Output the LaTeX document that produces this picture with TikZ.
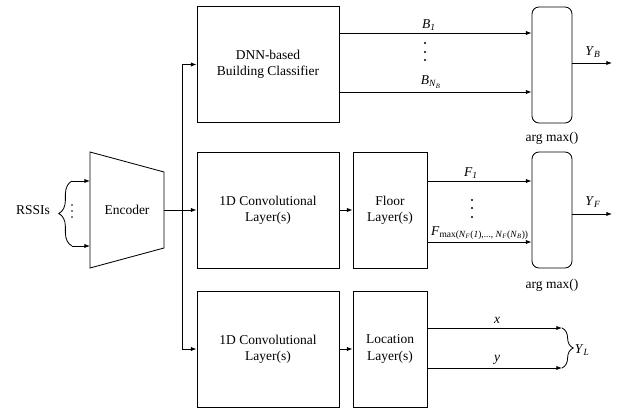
\documentclass[tikz,border=0pt]{standalone}
\usepackage{fontspec}
\setmainfont{Liberation Serif}
\usetikzlibrary{arrows.meta,decorations.pathreplacing}

\newcommand{\iv}[1]{\textit{#1}}
\newcommand{\sub}[1]{\textsubscript{#1}}

\begin{document}
\begin{tikzpicture}[x=0.025cm, y=-0.025cm, line width=0.6pt,
  font=\fontsize{9.6}{11.5}\selectfont,
  >={Latex[length=4pt,width=3pt]},
  block/.style={draw, align=center, inner sep=0pt, minimum width=3.55cm, minimum height=2.9cm},
  thinblock/.style={block, minimum width=1.85cm},
  argbox/.style={draw, rounded corners=5pt, minimum width=1cm, minimum height=2.9cm, inner sep=0pt},
  wbrace/.style={decorate, decoration={brace, amplitude=#1}},
  lab/.style={inner sep=1pt}]
\useasboundingbox (0,0) rectangle (619,411);

% encoder
\draw (90,152) -- (164,172) -- (164,248) -- (90,268) -- cycle;
\node[] (enc) at (127,210) {Encoder};
\coordinate (encout) at (164,210);
\coordinate (encin1) at (90,181);
\coordinate (encin2) at (90,246);
\coordinate (split) at (182,210);

% inputs
\coordinate (rssi1) at (72,181);
\coordinate (rssi2) at (72,246);
\draw[wbrace=0.33cm] (rssi2) -- (rssi1);
\node[] (rssi) at (33,210) {RSSIs};
\foreach \yy in {205,211,217} \fill (72,\yy) circle (0.6pt);
\draw[->] (rssi1) -- (encin1);
\draw[->] (rssi2) -- (encin2);

% blocks
\node[block] (dnn) at (268,64.5) {DNN-based\\Building Classifier};
\node[block] (conv1) at (268,210) {1D Convolutional\\Layer(s)};
\node[thinblock] (floor) at (390,210) {Floor\\Layer(s)};
\node[block] (conv2) at (268,349) {1D Convolutional\\Layer(s)};
\node[thinblock] (loc) at (390,349) {Location\\Layer(s)};
\node[argbox] (amB) at (552,65) {};
\node[argbox] (amF) at (552,210) {};
\node[] (amBlab) at (552,138) {arg max()};
\node[] (amFlab) at (552,285) {arg max()};

% encoder to branches
\draw (encout) -- (split);
\draw[->] (split) |- (dnn.west);
\draw[->] (split) -- (conv1.west);
\draw[->] (split) |- (conv2.west);
\draw[->] (conv1) -- (floor);
\draw[->] (conv2) -- (loc);

% building outputs
\draw[->] (dnn.east |- 0,33) -- (amB.west |- 0,33);
\draw[->] (dnn.east |- 0,92) -- (amB.west |- 0,92);
\node[lab] () at (429,25) {\iv{B}\sub{\iv{1}}};
\foreach \yy in {43,52,60} \fill (425,\yy) circle (0.8pt);
\node[lab] () at (431,82) {\iv{B}\sub{\iv{N}\sub{\iv{B}}}};
\coordinate (yb) at (612,63);
\draw[->] (amB.east |- yb) -- (yb);
\node[lab] () at (593,52) {\iv{Y}\sub{\iv{B}}};

% floor outputs
\draw[->] (floor.east |- 0,181) -- (amF.west |- 0,181);
\draw[->] (floor.east |- 0,242) -- (amF.west |- 0,242);
\node[lab] () at (471,173) {\iv{F}\sub{\iv{1}}};
\foreach \yy in {200,208,217} \fill (472,\yy) circle (0.8pt);
\node[lab] () at (480,233) {\iv{F}\sub{max(\iv{N}\sub{\iv{F}}(\iv{1}),..., \iv{N}\sub{\iv{F}}(\iv{N}\sub{\iv{B}}))}};
\coordinate (yf) at (612,214);
\draw[->] (amF.east |- yf) -- (yf);
\node[lab] () at (593,202) {\iv{Y}\sub{\iv{F}}};

% location outputs
\coordinate (xend) at (562,328);
\coordinate (yend) at (562,368);
\draw[->] (loc.east |- xend) -- (xend);
\draw[->] (loc.east |- yend) -- (yend);
\node[lab] () at (497,320) {\iv{x}};
\node[lab] () at (497,360) {\iv{y}};
\draw[wbrace=0.28cm] (xend) -- (yend);
\node[anchor=west, inner sep=1pt] () at (573,350) {\iv{Y}\sub{\iv{L}}};
\end{tikzpicture}
\end{document}
